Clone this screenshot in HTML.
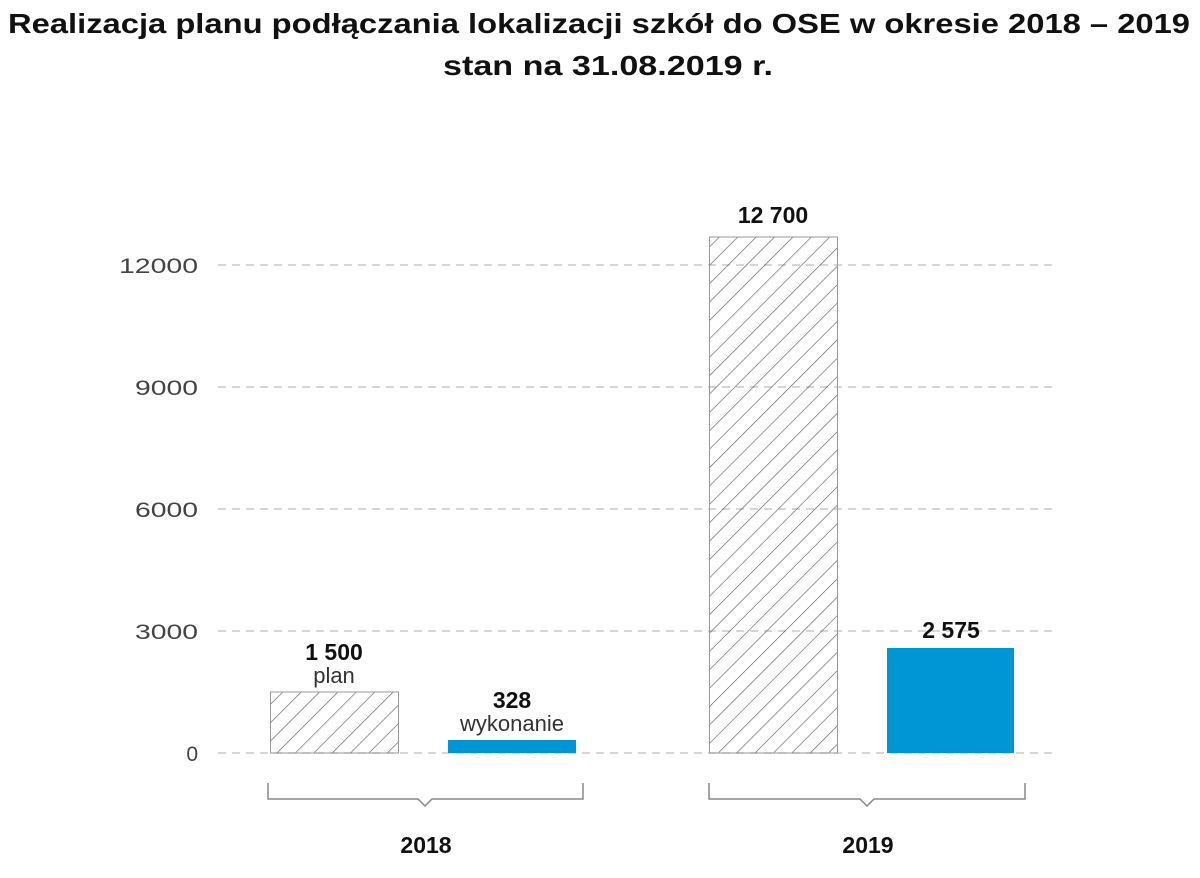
<!DOCTYPE html>
<html><head><meta charset="utf-8"><style>
body{margin:0;background:#fff;width:1200px;height:873px;overflow:hidden}
text{font-family:"Liberation Sans",sans-serif}
</style></head><body>
<svg width="1200" height="873" viewBox="0 0 1200 873">
<defs>
<pattern id="h" patternUnits="userSpaceOnUse" width="13" height="13" patternTransform="rotate(45)">
<line x1="0" y1="0" x2="0" y2="13" stroke="#555" stroke-width="1.2"/>
</pattern>
</defs>
<text x="8" y="33" font-size="28" font-weight="bold" fill="#111" textLength="1182" lengthAdjust="spacingAndGlyphs">Realizacja planu podłączania lokalizacji szkół do OSE w okresie 2018 – 2019</text>
<text x="443" y="75" font-size="28" font-weight="bold" fill="#111" textLength="330" lengthAdjust="spacingAndGlyphs">stan na 31.08.2019 r.</text>
<g stroke="#c8c8c8" stroke-width="1.5" stroke-dasharray="8,6">
<line x1="218" y1="265" x2="1058" y2="265"/>
<line x1="218" y1="387" x2="1058" y2="387"/>
<line x1="218" y1="509" x2="1058" y2="509"/>
<line x1="218" y1="631" x2="1058" y2="631"/>
<line x1="218" y1="753" x2="1058" y2="753"/>
</g>
<g font-size="21" fill="#444" text-anchor="end">
<text x="198" y="273" textLength="79" lengthAdjust="spacingAndGlyphs">12000</text>
<text x="198" y="395" textLength="63" lengthAdjust="spacingAndGlyphs">9000</text>
<text x="198" y="517" textLength="63" lengthAdjust="spacingAndGlyphs">6000</text>
<text x="198" y="639" textLength="63" lengthAdjust="spacingAndGlyphs">3000</text>
<text x="198" y="761">0</text>
</g>
<rect x="270.5" y="692" width="128" height="61" fill="url(#h)" stroke="#999" stroke-width="1"/>
<rect x="709.5" y="237" width="128" height="516" fill="url(#h)" stroke="#999" stroke-width="1"/>
<rect x="448" y="740" width="128" height="13" fill="#0096d6"/>
<rect x="887" y="648" width="127" height="105" fill="#0096d6"/>
<g font-size="23" font-weight="bold" fill="#111" text-anchor="middle">
<text x="334" y="660">1 500</text>
<text x="512" y="708">328</text>
<text x="773" y="223">12 700</text>
<text x="951" y="638">2 575</text>
</g>
<g font-size="22" fill="#333" text-anchor="middle">
<text x="334" y="683">plan</text>
<text x="512" y="731">wykonanie</text>
</g>
<g fill="none" stroke="#888" stroke-width="1.5">
<path d="M268 783 V799 H418 L425 806 L432 799 H583 V783"/>
<path d="M709 783 V799 H860 L867 806 L874 799 H1025 V783"/>
</g>
<g font-size="23" font-weight="bold" fill="#111" text-anchor="middle">
<text x="426" y="853">2018</text>
<text x="868" y="853">2019</text>
</g>
</svg>
</body></html>
